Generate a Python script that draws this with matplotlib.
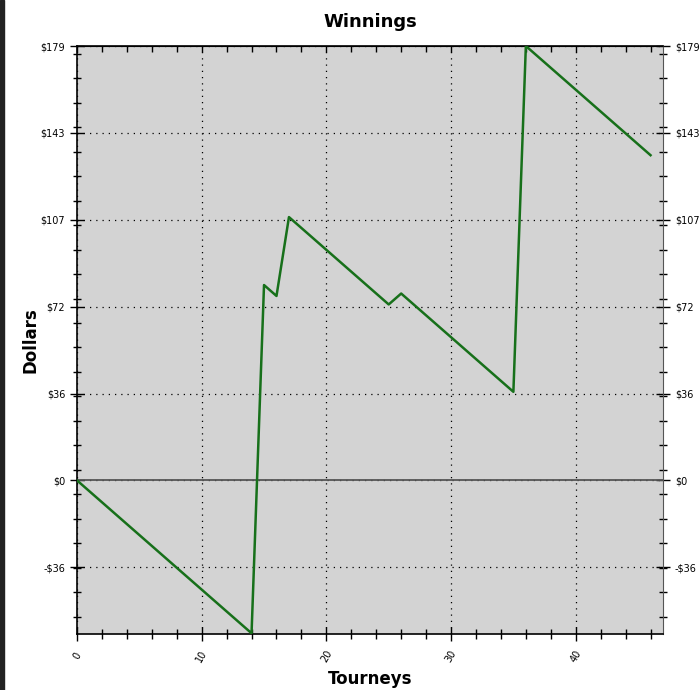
import matplotlib
matplotlib.use("Agg")
import matplotlib.pyplot as plt
from matplotlib.ticker import FixedLocator, MultipleLocator
import numpy as np

tourneys = list(range(47))
dollars = [0, -4.5, -9, -13.5, -18, -22.5, -27, -31.5, -36, -40.5, -45, -49.5, -54, -58.5, -63,
           80.5, 76, 108.5, 104, 99.5, 95, 90.5, 86, 81.5, 77, 72.5,
           77, 72.5, 68, 63.5, 59, 54.5, 50, 45.5, 41, 36.5,
           179, 174.5, 170, 165.5, 161, 156.5, 152, 147.5, 143, 138.5, 134]
y_tick_values = [-35.8, 0, 35.8, 71.6, 107.4, 143.2, 179]
y_tick_labels = ["-$36", "$0", "$36", "$72", "$107", "$143", "$179"]
x_tick_values = [0, 10, 20, 30, 40]

fig = plt.figure(figsize=(7, 6.9), dpi=100)
ax = fig.add_axes([77/700, 1-634/690, (663-77)/700, (634-46)/690])
ax.set_facecolor("#d3d3d3")

ax.plot(tourneys, dollars, color="#17701a", lw=1.8, zorder=3)
ax.axhline(0, color="#555555", lw=1.3, zorder=2)

ax.set_xlim(0, 47)
ax.set_ylim(-63.3, 179)

ax.yaxis.set_major_locator(FixedLocator(y_tick_values))
ax.set_yticklabels(y_tick_labels)
ax.yaxis.set_minor_locator(FixedLocator(list(np.arange(-56.1, 179, 10.08))))
ax.xaxis.set_major_locator(FixedLocator(x_tick_values))
ax.xaxis.set_minor_locator(MultipleLocator(2))

ax.grid(True, which="major", color="black", linestyle=(0, (1, 4)), lw=0.9)
ax.tick_params(axis="y", which="both", direction="inout", left=True, right=True,
               labelleft=True, labelright=True, labelsize=7)
ax.tick_params(axis="y", which="major", length=10, width=1)
ax.tick_params(axis="y", which="minor", length=6, width=1)
ax.tick_params(axis="x", which="both", direction="inout", top=False, bottom=True, labelsize=7,
               labelrotation=60, pad=11)
ax.tick_params(axis="x", which="major", length=10, width=1)
ax.tick_params(axis="x", which="minor", length=7, width=1)
for lbl in ax.get_xticklabels():
    lbl.set_ha("center")
    lbl.set_va("center")

top = ax.secondary_xaxis("top")
top.xaxis.set_major_locator(FixedLocator(x_tick_values))
top.xaxis.set_minor_locator(MultipleLocator(2))
top.tick_params(axis="x", which="both", direction="in", labeltop=False, length=4, width=1)

for s in ["left", "bottom", "top"]:
    ax.spines[s].set_color("black")
    ax.spines[s].set_linewidth(1.2)
ax.spines["right"].set_color("#555555")

ax.set_title("Winnings", fontsize=13, fontweight="bold", pad=14)
ax.set_xlabel("Tourneys", fontsize=12, fontweight="bold", labelpad=4)
ax.set_ylabel("Dollars", fontsize=12, fontweight="bold", labelpad=1)

fig.patches.append(plt.Rectangle((0, 0), 4/700, 1, transform=fig.transFigure,
                                 color="#222222", zorder=10))

fig.savefig("out.png", dpi=100)
